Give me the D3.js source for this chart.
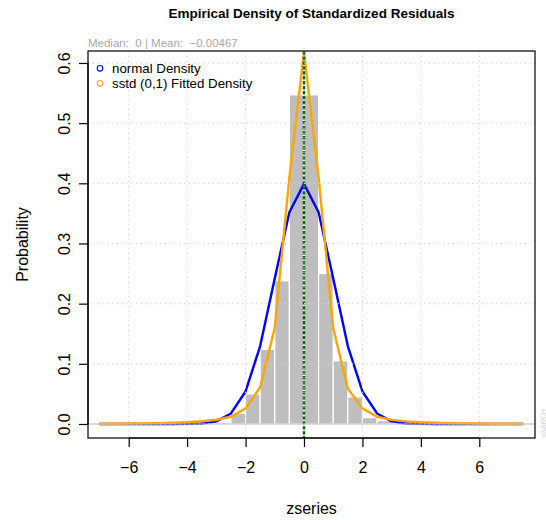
<!DOCTYPE html>
<html lang="en">
<head>
  <meta charset="utf-8" />
  <style>
    body { margin: 0; background: #fff; }
    svg text { font-family: "Liberation Sans", Arial, sans-serif; }
  </style>
</head>
<body>
<div id="container"></div>
<script src="https://cdn.jsdelivr.net/npm/d3@7"></script>
<script>

// histogram breaks (Scott) and bin densities
const breaks = [-7, -6.5, -6, -5.5, -5, -4.5, -4, -3.5, -3, -2.5, -2, -1.5, -1, -0.5, 0,
  0.5, 1, 1.5, 2, 2.5, 3, 3.5, 4, 4.5, 5, 5.5, 6, 6.5, 7, 7.5];
const density = [0.001, 0, 0, 0, 0, 0.001, 0, 0.001, 0.003, 0.018, 0.050, 0.124, 0.238, 0.547,
  0.547, 0.250, 0.105, 0.045, 0.0105, 0.0055, 0.002, 0.001, 0, 0.001, 0, 0, 0, 0, 0.001];

// densities evaluated at the breaks
const normalDens = [0, 0, 0, 0, 0, 0, 0.0001, 0.0009, 0.0044, 0.0175, 0.054, 0.1295, 0.242, 0.352, 0.399,
  0.352, 0.242, 0.1295, 0.054, 0.0175, 0.0044, 0.0009, 0.0001, 0, 0, 0, 0, 0, 0, 0];
const fittedDens = [0.0004, 0.0005, 0.0007, 0.001, 0.0014, 0.002, 0.003, 0.0045, 0.007, 0.012, 0.026, 0.061, 0.16, 0.41, 0.618,
  0.41, 0.159, 0.059, 0.026, 0.012, 0.0068, 0.0044, 0.003, 0.002, 0.0014, 0.001, 0.0007, 0.0005, 0.0004, 0.0003];

const xTicks = [-6, -4, -2, 0, 2, 4, 6];
const yTicks = [0, 0.1, 0.2, 0.3, 0.4, 0.5, 0.6];
const xmedian = 0;
const xmean = -0.00467;
const legendLabels = ['normal Density', 'sstd (0,1) Fitted Density'];
const legendColors = ['blue', 'orange'];
const vmodel = 'sGARCH';

const W = 546, H = 520;
const plot = { left: 88, right: 535, top: 51, bottom: 438 };

const svg = d3.select('#container')
  .append('svg')
  .attr('width', W)
  .attr('height', H);

const x = d3.scaleLinear().domain([-7.392, 7.906]).range([plot.left, plot.right]);
const y = d3.scaleLinear().domain([-0.0233, 0.6199]).range([plot.bottom, plot.top]);

svg.append('defs').append('clipPath').attr('id', 'clip')
  .append('rect')
  .attr('x', plot.left).attr('y', plot.top)
  .attr('width', plot.right - plot.left).attr('height', plot.bottom - plot.top);

const g = svg.append('g').attr('clip-path', 'url(#clip)');

// histogram bars
const bins = density.map((d, i) => ({ x0: breaks[i], x1: breaks[i + 1], d }));
g.selectAll('rect.bar')
  .data(bins)
  .enter()
  .append('rect')
  .attr('class', 'bar')
  .attr('x', d => x(d.x0))
  .attr('y', d => y(d.d))
  .attr('width', d => x(d.x1) - x(d.x0))
  .attr('height', d => y(0) - y(d.d))
  .attr('fill', '#bebebe')
  .attr('stroke', '#fff')
  .attr('stroke-width', 1.2);

// density lines
const line = d3.line().x((d, i) => x(breaks[i])).y(d => y(d));
g.append('path').datum(normalDens)
  .attr('d', line).attr('fill', 'none')
  .attr('stroke', 'blue').attr('stroke-width', 2.4).attr('stroke-linejoin', 'round');
g.append('path').datum(fittedDens)
  .attr('d', line).attr('fill', 'none')
  .attr('stroke', 'orange').attr('stroke-width', 2.4).attr('stroke-linejoin', 'round');

// median line
g.append('line')
  .attr('x1', x(xmedian)).attr('x2', x(xmedian))
  .attr('y1', plot.top).attr('y2', plot.bottom)
  .attr('stroke', 'darkgreen').attr('stroke-width', 2.4)
  .attr('stroke-dasharray', '3.6,1.4');

// zero line
g.append('line')
  .attr('x1', plot.left).attr('x2', plot.right)
  .attr('y1', y(0)).attr('y2', y(0))
  .attr('stroke', '#bebebe').attr('stroke-width', 1.2);

// grid
g.selectAll('line.gx')
  .data(xTicks)
  .enter()
  .append('line')
  .attr('x1', d => x(d)).attr('x2', d => x(d))
  .attr('y1', plot.top).attr('y2', plot.bottom)
  .attr('stroke', 'lightgray').attr('stroke-width', 1.2).attr('stroke-dasharray', '1.2,3.6');
g.selectAll('line.gy')
  .data(yTicks)
  .enter()
  .append('line')
  .attr('x1', plot.left).attr('x2', plot.right)
  .attr('y1', d => y(d)).attr('y2', d => y(d))
  .attr('stroke', 'lightgray').attr('stroke-width', 1.2).attr('stroke-dasharray', '1.2,3.6');

// box
svg.append('rect')
  .attr('x', plot.left).attr('y', plot.top)
  .attr('width', plot.right - plot.left).attr('height', plot.bottom - plot.top)
  .attr('fill', 'none').attr('stroke', '#000').attr('stroke-width', 1.2);

// axes
const fmtY = d3.format('.1f');
const minus = s => String(s).replace('-', '\u2212');

const xAxis = svg.append('g')
  .attr('transform', `translate(0, ${plot.bottom})`)
  .call(d3.axisBottom(x).tickValues(xTicks).tickSize(9).tickPadding(26).tickFormat(d => minus(d)));
xAxis.select('.domain').attr('d', `M${x(-6)},0H${x(6)}`).attr('stroke-width', 1.2);
xAxis.selectAll('.tick line').attr('stroke-width', 1.2);
xAxis.selectAll('text').attr('font-size', 16).attr('fill', '#000').attr('dy', 0);

const yAxis = svg.append('g')
  .attr('transform', `translate(${plot.left}, 0)`)
  .call(d3.axisLeft(y).tickValues(yTicks).tickSize(9).tickFormat(fmtY));
yAxis.select('.domain').attr('d', `M0,${y(0)}V${y(0.6)}`).attr('stroke-width', 1.2);
yAxis.selectAll('.tick line').attr('stroke-width', 1.2);
yAxis.selectAll('text')
  .attr('font-size', 16).attr('fill', '#000')
  .attr('x', 0).attr('dy', 0)
  .attr('text-anchor', 'middle')
  .attr('transform', 'translate(-18, 0) rotate(-90)');

// titles
svg.append('text')
  .attr('x', (plot.left + plot.right) / 2).attr('y', 17.5)
  .attr('text-anchor', 'middle')
  .attr('font-size', 13.5).attr('font-weight', 'bold')
  .text('Empirical Density of Standardized Residuals');

svg.append('text')
  .attr('x', plot.left).attr('y', 47)
  .attr('font-size', 11.5).attr('fill', 'darkgrey')
  .style('white-space', 'pre')
  .text(`Median:  ${xmedian} | Mean:  ${minus(xmean)}`);

svg.append('text')
  .attr('x', (plot.left + plot.right) / 2).attr('y', 514)
  .attr('text-anchor', 'middle').attr('font-size', 16)
  .text('zseries');

svg.append('text')
  .attr('transform', `translate(28, ${(plot.top + plot.bottom) / 2}) rotate(-90)`)
  .attr('text-anchor', 'middle').attr('font-size', 16)
  .text('Probability');

// model name in the right margin
svg.append('text')
  .attr('transform', `translate(545.5, ${plot.bottom}) rotate(-90)`)
  .attr('font-size', 7).attr('fill', '#d3d3d3')
  .text(vmodel);

// legend
const leg = svg.append('g');
legendLabels.forEach((t, i) => {
  leg.append('circle')
    .attr('cx', 100).attr('cy', 68.3 + i * 15).attr('r', 2.8)
    .attr('fill', 'none').attr('stroke', legendColors[i]).attr('stroke-width', 1.1);
  leg.append('text')
    .attr('x', 112).attr('y', 72.5 + i * 15)
    .attr('font-size', 13.3)
    .text(t);
});

</script>
</body>
</html>
